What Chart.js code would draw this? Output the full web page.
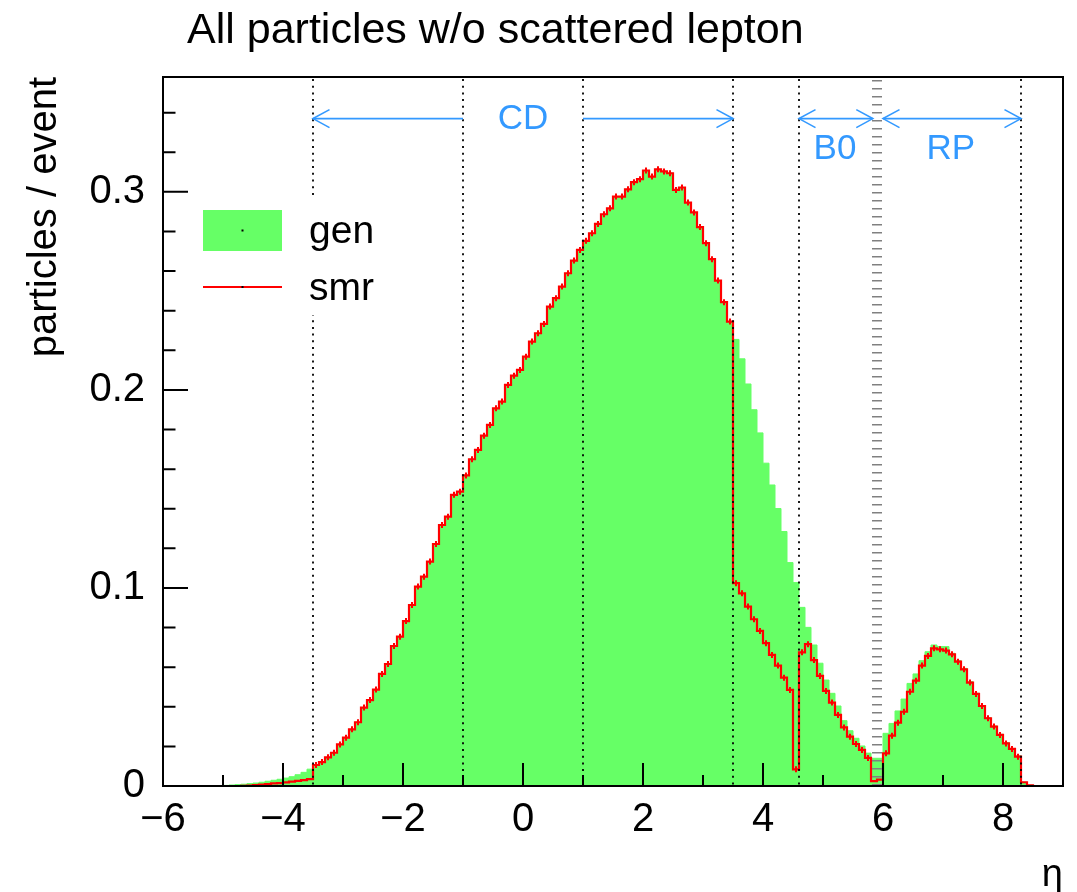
<!DOCTYPE html>
<html><head><meta charset="utf-8">
<script src="https://cdn.jsdelivr.net/npm/chart.js@4.4.1/dist/chart.umd.min.js"></script>
<style>html,body{margin:0;padding:0;background:#fff}#wrap{width:1077px;height:892px;position:relative}</style>
</head><body><div id="wrap"><canvas id="c"></canvas></div>
<script>
// ---- data: histogram of eta, 150 bins of width 0.1 from -6 to 9 ----
const binLow = -6.0;
const binWidth = 0.1;
const gen = [
  0, 0, 0, 0, 0, 0.0001, 0.0001, 0.0002, 0.0002, 0.0002,
  0.0003, 0.0005, 0.0007, 0.0009, 0.0012, 0.0015, 0.0019, 0.0024, 0.0029, 0.0034,
  0.0040, 0.0047, 0.0057, 0.0069, 0.0085, 0.0106, 0.0121, 0.0145, 0.0168, 0.0210,
  0.0244, 0.0286, 0.0322, 0.0396, 0.0434, 0.0487, 0.0566, 0.0616, 0.0707, 0.0754,
  0.0833, 0.0914, 0.1007, 0.1057, 0.1133, 0.1222, 0.1318, 0.1360, 0.1470, 0.1486,
  0.1568, 0.1650, 0.1697, 0.1769, 0.1823, 0.1907, 0.1941, 0.2025, 0.2072, 0.2101,
  0.2168, 0.2244, 0.2286, 0.2333, 0.2421, 0.2463, 0.2522, 0.2589, 0.2653, 0.2707,
  0.2753, 0.2791, 0.2838, 0.2887, 0.2917, 0.2976, 0.2976, 0.3013, 0.3049, 0.3064,
  0.3108, 0.3077, 0.3114, 0.3103, 0.3094, 0.3010, 0.3022, 0.2946, 0.2896, 0.2822,
  0.2741, 0.2660, 0.2552, 0.2443, 0.2345, 0.2255, 0.2157, 0.2030, 0.1900, 0.1783,
  0.1630, 0.1520, 0.1401, 0.1285, 0.1128, 0.1027, 0.0902, 0.0801, 0.0712, 0.0620,
  0.0535, 0.0468, 0.0404, 0.0330, 0.0279, 0.0241, 0.0202, 0.0166, 0.0140, 0.0140,
  0.0266, 0.0316, 0.0379, 0.0439, 0.0518, 0.0566, 0.0633, 0.0678, 0.0712, 0.0704,
  0.0704, 0.0670, 0.0633, 0.0594, 0.0527, 0.0468, 0.0406, 0.0345, 0.0303, 0.0261,
  0.0219, 0.0189, 0.0152, 0.0019, 0.0004, 0.0002, 0.0001, 0, 0, 0
];
const smr = [
  0, 0, 0, 0, 0, 0, 0, 0, 0, 0,
  0, 0, 0, 0.0001, 0.0002, 0.0004, 0.0007, 0.0010, 0.0013, 0.0015,
  0.0018, 0.0022, 0.0026, 0.0030, 0.0035, 0.0106, 0.0121, 0.0145, 0.0168, 0.0210,
  0.0244, 0.0286, 0.0322, 0.0396, 0.0434, 0.0487, 0.0566, 0.0616, 0.0707, 0.0754,
  0.0833, 0.0914, 0.1007, 0.1057, 0.1133, 0.1222, 0.1318, 0.1360, 0.1470, 0.1486,
  0.1568, 0.1650, 0.1697, 0.1769, 0.1823, 0.1907, 0.1941, 0.2025, 0.2072, 0.2101,
  0.2168, 0.2244, 0.2286, 0.2333, 0.2421, 0.2463, 0.2522, 0.2589, 0.2653, 0.2707,
  0.2753, 0.2791, 0.2838, 0.2887, 0.2917, 0.2976, 0.2976, 0.3013, 0.3049, 0.3064,
  0.3108, 0.3077, 0.3114, 0.3103, 0.3094, 0.3010, 0.3022, 0.2946, 0.2896, 0.2822,
  0.2741, 0.2660, 0.2552, 0.2443, 0.2345, 0.1024, 0.0973, 0.0906, 0.0842, 0.0783,
  0.0721, 0.0662, 0.0608, 0.0547, 0.0485, 0.0084, 0.0675, 0.0716, 0.0636, 0.0556,
  0.0480, 0.0421, 0.0359, 0.0296, 0.0249, 0.0212, 0.0182, 0.0142, 0.0025, 0.0032,
  0.0165, 0.0254, 0.0320, 0.0375, 0.0476, 0.0532, 0.0608, 0.0657, 0.0695, 0.0690,
  0.0684, 0.0665, 0.0628, 0.0589, 0.0522, 0.0465, 0.0404, 0.0342, 0.0300, 0.0258,
  0.0215, 0.0187, 0.0148, 0.0019, 0.0003, 0, 0, 0, 0, 0
];
const seriesNames = ['gen', 'smr'];
const chartTitle = 'All particles w/o scattered lepton';
const xTitle = '\u03b7';
const yTitle = 'particles / event';
const xRange = [-6, 9];
const yRange = [0, 0.358];
// detector region boundaries (eta)
const regionEdges = [-3.5, -1, 1, 3.5, 4.6, 8.3];
const beamLineEta = 5.9;
const regionArrows = [
  {from: -3.5, to: -1, headFrom: true, headTo: false},
  {from: 1, to: 3.5, headFrom: false, headTo: true},
  {from: 4.6, to: 5.83, headFrom: true, headTo: true},
  {from: 6.0, to: 8.3, headFrom: true, headTo: true}
];
const regionLabels = [
  {text: 'CD', eta: 0, y: 0.337},
  {text: 'B0', eta: 5.2, y: 0.322},
  {text: 'RP', eta: 7.13, y: 0.322}
];
const arrowLevel = 0.337;

// ---- build ----
function histPoints(vals) {
  const pts = [{x: binLow, y: vals[0]}];
  vals.forEach((v, i) => pts.push({x: binLow + binWidth * (i + 0.5), y: v}));
  pts.push({x: binLow + binWidth * vals.length, y: vals[vals.length - 1]});
  return pts;
}
const FONT = "'Liberation Sans', Arial, Helvetica, sans-serif";
const BLUE = '#3399ff';
const GREEN = '#66ff66';
const RED = '#ff0000';

const decor = {
  id: 'decor',
  afterDatasetsDraw(chart) {
    const {ctx, chartArea: a, scales: {x, y}} = chart;
    ctx.save();
    // dotted region boundaries
    ctx.strokeStyle = '#000';
    ctx.lineWidth = 1.8;
    ctx.setLineDash([2, 4.7]);
    regionEdges.forEach(v => {
      const px = x.getPixelForValue(v);
      ctx.beginPath(); ctx.moveTo(px, a.top + 2); ctx.lineTo(px, a.bottom); ctx.stroke();
    });
    // grey beam line
    ctx.strokeStyle = '#808080';
    ctx.lineWidth = 10;
    ctx.setLineDash([1.4, 6.6]);
    const bx = x.getPixelForValue(beamLineEta);
    ctx.beginPath(); ctx.moveTo(bx, a.top + 3); ctx.lineTo(bx, a.bottom); ctx.stroke();
    ctx.setLineDash([]);
    // arrows
    ctx.strokeStyle = BLUE; ctx.lineWidth = 1.6;
    const ay = y.getPixelForValue(arrowLevel);
    regionArrows.forEach(ar => {
      const x1 = x.getPixelForValue(ar.from), x2 = x.getPixelForValue(ar.to);
      ctx.beginPath(); ctx.moveTo(x1, ay); ctx.lineTo(x2, ay); ctx.stroke();
      if (ar.headFrom) { ctx.beginPath(); ctx.moveTo(x1 + 16.5, ay - 9); ctx.lineTo(x1, ay); ctx.lineTo(x1 + 16.5, ay + 9); ctx.stroke(); }
      if (ar.headTo) { ctx.beginPath(); ctx.moveTo(x2 - 16.5, ay - 9); ctx.lineTo(x2, ay); ctx.lineTo(x2 - 16.5, ay + 9); ctx.stroke(); }
    });
    ctx.fillStyle = BLUE; ctx.font = '35px ' + FONT;
    ctx.textAlign = 'center'; ctx.textBaseline = 'middle';
    regionLabels.forEach(l => ctx.fillText(l.text, x.getPixelForValue(l.eta), y.getPixelForValue(l.y) + 1));
    // legend
    const lx = a.left, ly = a.top;
    ctx.fillStyle = '#fff'; ctx.fillRect(lx + 20, ly + 120, 220, 118);
    ctx.fillStyle = GREEN; ctx.fillRect(lx + 40, ly + 133, 79, 41);
    ctx.fillStyle = '#000'; ctx.fillRect(lx + 78.5, ly + 152.5, 2, 2);
    ctx.strokeStyle = RED; ctx.lineWidth = 2;
    ctx.beginPath(); ctx.moveTo(lx + 40, ly + 210); ctx.lineTo(lx + 119, ly + 210); ctx.stroke();
    ctx.fillStyle = '#000'; ctx.fillRect(lx + 78.5, ly + 209, 2, 2);
    ctx.font = '39px ' + FONT; ctx.textAlign = 'left'; ctx.textBaseline = 'alphabetic';
    ctx.fillText(seriesNames[0], lx + 146, ly + 166);
    ctx.fillText(seriesNames[1], lx + 146, ly + 223);
    // frame
    ctx.strokeStyle = '#000'; ctx.lineWidth = 2;
    ctx.strokeRect(a.left, a.top, a.right - a.left, a.bottom - a.top);
    // ticks (inside)
    ctx.lineWidth = 2;
    ctx.beginPath();
    for (let v = xRange[0]; v <= xRange[1] + 1e-9; v += 1) {
      const px = x.getPixelForValue(v);
      const len = (Math.round(v) % 2 === 0) ? 23 : 11;
      ctx.moveTo(px, a.bottom); ctx.lineTo(px, a.bottom - len);
    }
    for (let k = 0; k * 0.02 <= yRange[1] + 1e-9; k++) {
      const py = y.getPixelForValue(k * 0.02);
      const len = (k % 5 === 0) ? 25 : 12.5;
      ctx.moveTo(a.left, py); ctx.lineTo(a.left + len, py);
    }
    ctx.stroke();
    // title
    ctx.fillStyle = '#000'; ctx.font = '43px ' + FONT;
    ctx.textAlign = 'left'; ctx.textBaseline = 'alphabetic';
    ctx.fillText(chartTitle, 187, 43);
    ctx.restore();
  }
};

const n = gen.length;
new Chart(document.getElementById('c'), {
  type: 'line',
  data: {
    datasets: [
      {
        label: seriesNames[1], data: histPoints(smr), stepped: 'middle',
        borderColor: RED, borderWidth: 2.2, fill: false,
        pointStyle: 'line', pointRotation: 90,
        pointRadius: c => (c.dataIndex === 0 || c.dataIndex === n + 1 || c.raw.y < 0.008) ? 0 : 3,
        pointBorderColor: RED, pointBorderWidth: 2, pointHoverRadius: 0, order: 1
      },
      {
        label: seriesNames[0], data: histPoints(gen), stepped: 'middle',
        borderColor: GREEN, borderWidth: 1, backgroundColor: GREEN, fill: 'origin',
        pointRadius: 0, pointHoverRadius: 0, order: 2
      }
    ]
  },
  options: {
    responsive: true, maintainAspectRatio: false, animation: false, events: [],
    layout: {padding: {left: 0, right: 14, top: 77, bottom: 0}},
    plugins: {legend: {display: false}, tooltip: {enabled: false}, title: {display: false}},
    scales: {
      x: {
        type: 'linear', min: xRange[0], max: xRange[1],
        grid: {display: false, drawTicks: false}, border: {display: false},
        afterFit: s => { s.height = 106; },
        ticks: {
          stepSize: 2, includeBounds: false, autoSkip: false, maxRotation: 0, padding: 10,
          color: '#000', font: {family: FONT, size: 40},
          callback: v => (v < 0 ? '\u2212' + Math.abs(v) : String(v))
        },
        title: {display: true, text: xTitle, align: 'end', color: '#000',
          font: {family: FONT, size: 38, lineHeight: 0.85}, padding: 0}
      },
      y: {
        type: 'linear', min: yRange[0], max: yRange[1],
        grid: {display: false, drawTicks: false}, border: {display: false},
        afterFit: s => { s.width = 163; },
        ticks: {
          stepSize: 0.1, includeBounds: false, padding: 18,
          color: '#000', font: {family: FONT, size: 40},
          callback: v => (Math.abs(v) < 1e-9 ? '0' : v.toFixed(1))
        },
        title: {display: true, text: yTitle, align: 'end', color: '#000',
          font: {family: FONT, size: 40, lineHeight: 1.2}, padding: {top: 21, bottom: 0}}
      }
    }
  },
  plugins: [decor]
});
</script>
</body></html>
